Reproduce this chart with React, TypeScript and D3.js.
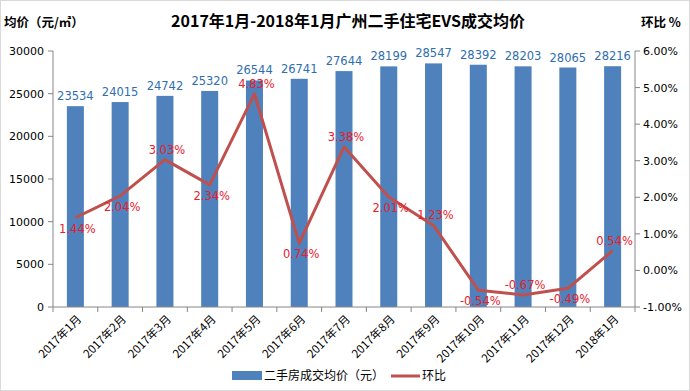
import React from "react";
import * as d3 from "d3";

const categories = ["2017年1月","2017年2月","2017年3月","2017年4月","2017年5月","2017年6月","2017年7月","2017年8月","2017年9月","2017年10月","2017年11月","2017年12月","2018年1月"];
const prices = [23534,24015,24742,25320,26544,26741,27644,28199,28547,28392,28203,28065,28216];
const mom = [1.44,2.04,3.03,2.34,4.83,0.74,3.38,2.01,1.23,-0.54,-0.67,-0.49,0.54];
const momLabelSide = ["below","below","above","below","above","below","above","below","above","below","above","below","above"];
const leftTicks = [0,5000,10000,15000,20000,25000,30000];
const rightTicks = [-1,0,1,2,3,4,5,6];

const W = 690, H = 391;
const M = { left: 53, right: 635, top: 51, bottom: 307 };
const FONT = "'DejaVu Sans', Verdana, sans-serif";
const CJK = "'Noto Sans CJK SC', 'DejaVu Sans', sans-serif";

export default function App() {
  const x = d3.scaleBand<string>().domain(categories).range([M.left, M.right]).paddingInner(0.62).paddingOuter(0.31);
  const xs = d3.scaleBand<string>().domain(categories).range([M.left, M.right]);
  const yL = d3.scaleLinear().domain([0, 30000]).range([M.bottom, M.top]);
  const yR = d3.scaleLinear().domain([-1, 6]).range([M.bottom, M.top]);
  const line = d3.line<number>().x((_, i) => xs(categories[i])! + xs.bandwidth() / 2).y(d => yR(d));
  const blue = "#4F81BD";
  const red = "#C0504D";
  return (
    <div style={{ position: "fixed", left: 0, top: 0 }}>
      <svg width={W} height={H} style={{ display: "block", background: "#fff" }}>
        <rect x={0.5} y={0.5} width={W - 1} height={H - 1} fill="#fff" stroke="#D9D9D9" />
        <text x={348} y={27} textAnchor="middle" fontFamily={CJK} fontWeight="bold" fontSize={16} fill="#000">2017年1月-2018年1月广州二手住宅EVS成交均价</text>
        <text x={4} y={27} fontFamily={CJK} fontWeight="bold" fontSize={12.5} fill="#000">均价（元/㎡）</text>
        <text x={641} y={27} fontFamily={CJK} fontWeight="bold" fontSize={12.5} fill="#000">环比 %</text>
        {/* bars */}
        {prices.map((v, i) => (
          <rect key={i} x={x(categories[i])} y={yL(v)} width={x.bandwidth()} height={yL(0) - yL(v)} fill={blue} />
        ))}
        {prices.map((v, i) => (
          <text key={"bl" + i} x={x(categories[i])! + x.bandwidth() / 2} y={yL(v) - 6} textAnchor="middle" fontFamily={FONT} fontSize={11.5} fill="#2E6EB0">{v}</text>
        ))}
        {/* left axis */}
        <line x1={M.left} x2={M.left} y1={M.top} y2={M.bottom} stroke="#868686" />
        {leftTicks.map(t => (
          <g key={"lt" + t}>
            <line x1={M.left - 5} x2={M.left} y1={yL(t)} y2={yL(t)} stroke="#868686" />
            <text x={M.left - 9} y={yL(t) + 4} textAnchor="end" fontFamily={FONT} fontSize={11} fill="#000">{t}</text>
          </g>
        ))}
        {/* right axis */}
        <line x1={M.right} x2={M.right} y1={M.top} y2={M.bottom} stroke="#868686" />
        {rightTicks.map(t => (
          <g key={"rt" + t}>
            <line x1={M.right} x2={M.right + 5} y1={yR(t)} y2={yR(t)} stroke="#868686" />
            <text x={M.right + 8} y={yR(t) + 4} textAnchor="start" fontFamily={FONT} fontSize={11} fill="#000">{t.toFixed(2)}%</text>
          </g>
        ))}
        {/* x axis */}
        <line x1={M.left} x2={M.right} y1={M.bottom} y2={M.bottom} stroke="#868686" />
        {categories.map((c, i) => (
          <line key={"xt" + i} x1={xs(c)!} x2={xs(c)!} y1={M.bottom} y2={M.bottom + 5} stroke="#868686" />
        ))}
        <line x1={M.right} x2={M.right} y1={M.bottom} y2={M.bottom + 5} stroke="#868686" />
        {categories.map((c, i) => {
          const cx = xs(c)! + xs.bandwidth() / 2 + 4;
          const cy = M.bottom + 10;
          return (
            <text key={"xl" + i} transform={`translate(${cx},${cy}) rotate(-45)`} textAnchor="end" dy="0.35em" fontFamily={CJK} fontSize={11.5} fill="#000">{c}</text>
          );
        })}
        {/* line */}
        <path d={line(mom)!} fill="none" stroke={red} strokeWidth={3} strokeLinejoin="round" />
        {mom.map((v, i) => {
          const cx = xs(categories[i])! + xs.bandwidth() / 2;
          const cy = yR(v);
          const dy = momLabelSide[i] === "above" ? -6 : 15;
          return (
            <text key={"ml" + i} x={cx + 2} y={cy + dy} textAnchor="middle" fontFamily={FONT} fontSize={11.5} fill="#E8202A">{v.toFixed(2)}%</text>
          );
        })}
        {/* legend */}
        <rect x={232} y={371} width={30} height={9} fill={blue} />
        <text x={264} y={380} fontFamily={CJK} fontSize={12} fill="#000">二手房成交均价（元）</text>
        <line x1={391} x2={420} y1={376} y2={376} stroke={red} strokeWidth={3} />
        <text x={422} y={380} fontFamily={CJK} fontSize={12} fill="#000">环比</text>
      </svg>
    </div>
  );
}
